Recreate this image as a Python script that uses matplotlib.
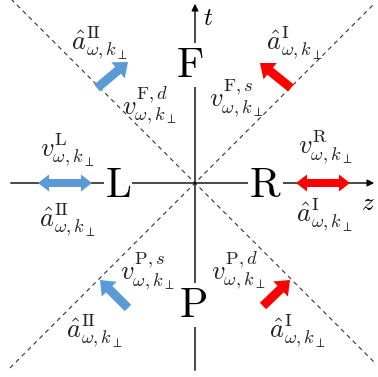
import matplotlib
matplotlib.use('Agg')
import matplotlib.pyplot as plt

plt.rcParams['mathtext.fontset'] = 'cm'

# region letters and their centres
regions = ['F', 'L', 'R', 'P']
region_x = [-5, -77, 70, -2]
region_y = [118, -2, -2, -122]

# mode arrows (tail -> tip)
arrow_tail_x = [-98, 96, -67, 68]
arrow_tail_y = [95, 95, -125, -123]
arrow_tip_x = [-67, 65, -95, 95]
arrow_tip_y = [121, 120, -97, -97]
arrow_colors = ['#5b9bd5', '#ff0000', '#5b9bd5', '#ff0000']

# double arrows on the z axis
double_x0 = [-157, 101]
double_x1 = [-103, 155]
double_colors = ['#5b9bd5', '#ff0000']

sub = r'_{\omega,k_\perp}'
labels = [r'$\hat{a}^{\mathrm{II}}' + sub + '$', r'$v^{\mathrm{F},d}' + sub + '$',
          r'$v^{\mathrm{L}}' + sub + '$', r'$\hat{a}^{\mathrm{II}}' + sub + '$',
          r'$v^{\mathrm{P},s}' + sub + '$', r'$\hat{a}^{\mathrm{II}}' + sub + '$',
          r'$\hat{a}^{\mathrm{I}}' + sub + '$', r'$v^{\mathrm{F},s}' + sub + '$',
          r'$v^{\mathrm{R}}' + sub + '$', r'$\hat{a}^{\mathrm{I}}' + sub + '$',
          r'$v^{\mathrm{P},d}' + sub + '$', r'$\hat{a}^{\mathrm{I}}' + sub + '$']
label_x = [-95, -46, -128, -127, -48, -100, 100, 41, 130, 130, 43, 103]
label_y = [140, 78, 33, -37, -88, -148, 140, 85, 36, -32, -87, -148]

fig = plt.figure(figsize=(3.78, 3.77), dpi=100)
ax = fig.add_axes([0, 0, 1, 1])
ax.set_xlim(-195, 183)
ax.set_ylim(-194, 183)
ax.axis('off')

# light cone
ax.plot([-185, 181], [185, -181], color='#333333', ls='--', lw=0.8, dashes=(4, 3.5))
ax.plot([-185, 180], [-185, 180], color='#333333', ls='--', lw=0.8, dashes=(4, 3.5))

# axes z and t
ax.annotate('', xy=(182, 0), xytext=(-187, 0),
            arrowprops=dict(arrowstyle='-|>', color='k', lw=1, mutation_scale=10))
ax.annotate('', xy=(0, 182), xytext=(0, -190),
            arrowprops=dict(arrowstyle='-|>', color='k', lw=1, mutation_scale=10))
ax.text(13, 165, '$t$', fontsize=18, ha='center', va='center')
ax.text(173, -20, '$z$', fontsize=18, ha='center', va='center')

for name, x, y in zip(regions, region_x, region_y):
    ax.text(x, y, r'$\mathrm{' + name + '}$', fontsize=30, ha='center', va='center',
            bbox=dict(facecolor='white', edgecolor='none', pad=1), zorder=4)

for x0, y0, x1, y1, c in zip(arrow_tail_x, arrow_tail_y, arrow_tip_x, arrow_tip_y, arrow_colors):
    ax.arrow(x0, y0, x1 - x0, y1 - y0, width=9, head_width=21, head_length=13,
             length_includes_head=True, color=c, lw=0, zorder=5)

for x0, x1, c in zip(double_x0, double_x1, double_colors):
    xm = (x0 + x1) / 2
    for xe in (x0, x1):
        ax.arrow(xm, 0, xe - xm, 0, width=8, head_width=17, head_length=11,
                 length_includes_head=True, color=c, lw=0, zorder=5)

for s, x, y in zip(labels, label_x, label_y):
    ax.text(x, y, s, fontsize=19, ha='center', va='center', color='#222222', zorder=6)

fig.savefig('out.png', dpi=100)
